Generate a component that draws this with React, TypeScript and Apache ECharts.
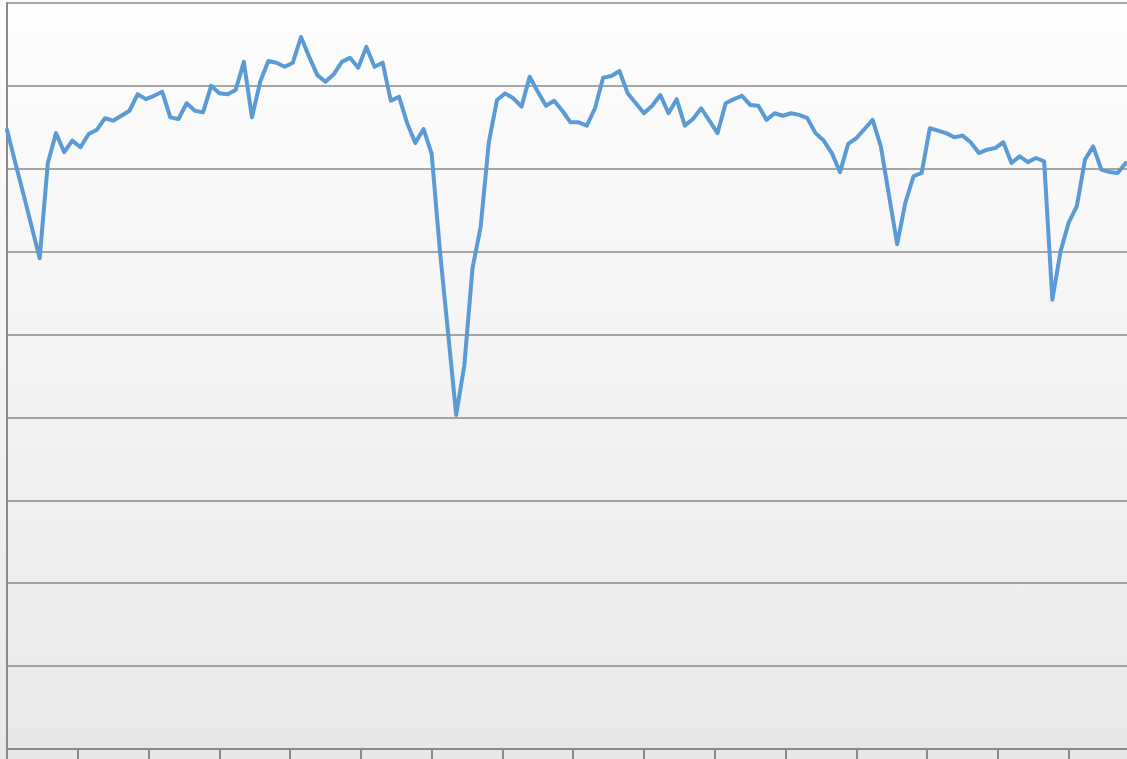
import React, { useEffect, useRef } from "react";
import * as echarts from "echarts";

// Index of each observation along the horizontal axis (0..137)
const values: number[] = [
  74.7, 70.8, 67.0, 63.1, 59.2, 70.7, 74.3, 72.0, 73.4, 72.6,
  74.2, 74.7, 76.1, 75.8, 76.4, 77.0, 79.0, 78.4, 78.8, 79.3,
  76.2, 76.0, 77.9, 77.0, 76.8, 80.0, 79.1, 79.0, 79.5, 82.9,
  76.2, 80.5, 83.0, 82.8, 82.3, 82.8, 85.9, 83.5, 81.3, 80.5,
  81.4, 82.9, 83.4, 82.2, 84.7, 82.3, 82.8, 78.2, 78.7, 75.5,
  73.1, 74.8, 71.8, 60.2, 50.3, 40.3, 46.3, 58.0, 63.0, 73.2,
  78.3, 79.1, 78.5, 77.5, 81.1, 79.3, 77.6, 78.2, 77.0, 75.6,
  75.6, 75.2, 77.3, 81.0, 81.2, 81.8, 79.1, 77.9, 76.7, 77.6,
  78.9, 76.7, 78.4, 75.2, 76.0, 77.3, 75.8, 74.3, 77.9, 78.4,
  78.8, 77.7, 77.6, 75.9, 76.7, 76.4, 76.7, 76.5, 76.1, 74.3,
  73.4, 71.9, 69.6, 73.0, 73.7, 74.8, 75.9, 72.7, 66.8, 60.9,
  65.9, 69.1, 69.5, 74.9, 74.6, 74.3, 73.8, 74.0, 73.2, 71.9,
  72.3, 72.5, 73.2, 70.7, 71.5, 70.8, 71.3, 70.9, 54.2, 60.0,
  63.5, 65.5, 71.1, 72.7, 69.9, 69.6, 69.5, 70.7,
];

const Y_MIN = 0;
const Y_MAX = 90;
const Y_STEP = 10;
const X_MAX = 138;
const X_TICK_STEP = 26 / 3;

export default function App() {
  const ref = useRef<HTMLDivElement>(null);

  useEffect(() => {
    document.body.style.margin = "0";
    document.body.style.overflow = "hidden";
    document.documentElement.style.overflow = "hidden";
    if (!ref.current) return;
    const chart = echarts.init(ref.current, null, { renderer: "svg" });
    const gray = "#8a8a8a";
    chart.setOption({
      animation: false,
      backgroundColor: new echarts.graphic.LinearGradient(0, 0, 0, 1, [
        { offset: 0, color: "#fefefe" },
        { offset: 1, color: "#e8e8e8" },
      ]),
      grid: {
        left: 7,
        top: 3,
        width: 1127,
        height: 746,
        containLabel: false,
        outerBoundsMode: "none",
      },
      xAxis: {
        type: "value",
        min: 0,
        max: X_MAX,
        interval: X_TICK_STEP,
        axisLine: { show: true, lineStyle: { color: gray, width: 2 } },
        axisTick: { show: true, inside: false, length: 10, lineStyle: { color: gray, width: 2 } },
        axisLabel: { show: false },
        splitLine: { show: false },
      },
      yAxis: {
        type: "value",
        min: Y_MIN,
        max: Y_MAX,
        interval: Y_STEP,
        axisLine: { show: true, lineStyle: { color: gray, width: 2 } },
        axisTick: { show: false },
        axisLabel: { show: false },
        splitLine: { show: true, lineStyle: { color: gray, width: 1.5 } },
      },
      series: [
        {
          type: "line",
          data: values.map((v, i) => [i, v]),
          symbol: "none",
          smooth: false,
          lineStyle: { color: "#5b9bd5", width: 4, join: "round", cap: "round" },
        },
      ],
    });
    return () => chart.dispose();
  }, []);

  return (
    <div
      ref={ref}
      style={{ position: "fixed", left: 0, top: 0, width: 1145, height: 759 }}
    />
  );
}
